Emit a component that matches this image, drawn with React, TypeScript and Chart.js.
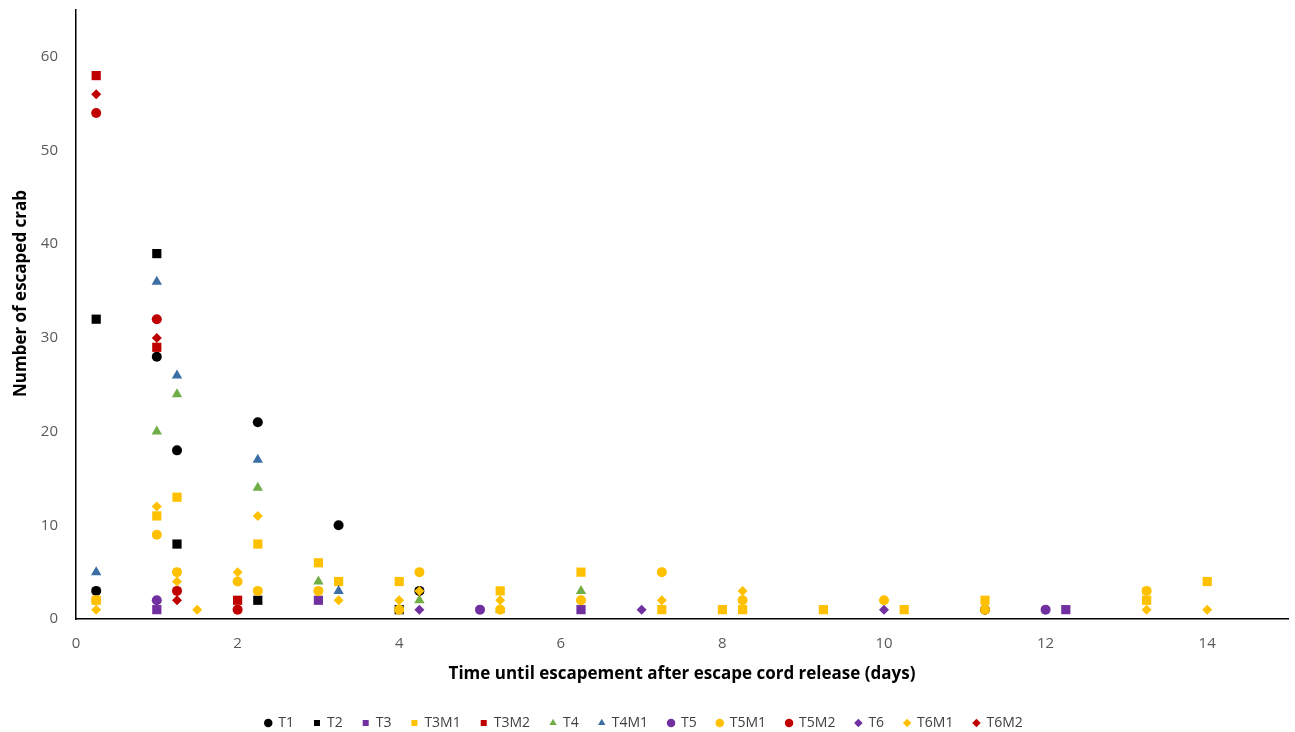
import React, { useEffect, useRef } from "react";
import { Chart, registerables } from "chart.js";

Chart.register(...registerables);

// ---- data (x = days, y = number of escaped crab) ----
const t1X = [0.25, 1, 1.25, 2.25, 3.25, 4.25, 11.25];
const t1Y = [3, 28, 18, 21, 10, 3, 1];
const t2X = [0.25, 1, 1.25, 2.25, 4];
const t2Y = [32, 39, 8, 2, 1];
const t3X = [1, 3, 6.25, 12.25];
const t3Y = [1, 2, 1, 1];
const t3m1X = [0.25, 1, 1.25, 2.25, 3, 3.25, 4, 5.25, 6.25, 7.25, 8, 8.25, 9.25, 10.25, 11.25, 13.25, 14];
const t3m1Y = [2, 11, 13, 8, 6, 4, 4, 3, 5, 1, 1, 1, 1, 1, 2, 2, 4];
const t3m2X = [0.25, 1, 2];
const t3m2Y = [58, 29, 2];
const t4X = [1, 1.25, 2.25, 3, 4.25, 5.25, 6.25];
const t4Y = [20, 24, 14, 4, 2, 1, 3];
const t4m1X = [0.25, 1, 1.25, 2.25, 3.25];
const t4m1Y = [5, 36, 26, 17, 3];
const t5X = [1, 5, 12];
const t5Y = [2, 1, 1];
const t5m1X = [0.25, 1, 1.25, 2, 2.25, 3, 4, 4.25, 5.25, 6.25, 7.25, 8.25, 10, 11.25, 13.25];
const t5m1Y = [2, 9, 5, 4, 3, 3, 1, 5, 1, 2, 5, 2, 2, 1, 3];
const t5m2X = [0.25, 1, 1.25, 2];
const t5m2Y = [54, 32, 3, 1];
const t6X = [4.25, 7, 10];
const t6Y = [1, 1, 1];
const t6m1X = [0.25, 1, 1.25, 1.5, 2, 2.25, 3.25, 4, 4.25, 5.25, 6.25, 7.25, 8.25, 10, 13.25, 14];
const t6m1Y = [1, 12, 4, 1, 5, 11, 2, 2, 3, 2, 2, 2, 3, 2, 1, 1];
const t6m2X = [0.25, 1, 1.25];
const t6m2Y = [56, 30, 2];

const xTicks = [0, 2, 4, 6, 8, 10, 12, 14];
const yTicks = [0, 10, 20, 30, 40, 50, 60];

const xTitle = "Time until escapement after escape cord release (days)";
const yTitle = "Number of escaped crab";

const BLACK = "#000000";
const PURPLE = "#7030A0";
const YELLOW = "#FFC000";
const RED = "#C00000";
const GREEN = "#70AD47";
const BLUE = "#3A6EA5";

const seriesDefs = [
  { label: "T1", xs: t1X, ys: t1Y, color: BLACK, style: "circle", r: 5 },
  { label: "T2", xs: t2X, ys: t2Y, color: BLACK, style: "rect", r: 6.5 },
  { label: "T3", xs: t3X, ys: t3Y, color: PURPLE, style: "rect", r: 6.5 },
  { label: "T3M1", xs: t3m1X, ys: t3m1Y, color: YELLOW, style: "rect", r: 6.5 },
  { label: "T3M2", xs: t3m2X, ys: t3m2Y, color: RED, style: "rect", r: 6.5 },
  { label: "T4", xs: t4X, ys: t4Y, color: GREEN, style: "triangle", r: 6 },
  { label: "T4M1", xs: t4m1X, ys: t4m1Y, color: BLUE, style: "triangle", r: 6 },
  { label: "T5", xs: t5X, ys: t5Y, color: PURPLE, style: "circle", r: 5 },
  { label: "T5M1", xs: t5m1X, ys: t5m1Y, color: YELLOW, style: "circle", r: 5 },
  { label: "T5M2", xs: t5m2X, ys: t5m2Y, color: RED, style: "circle", r: 5 },
  { label: "T6", xs: t6X, ys: t6Y, color: PURPLE, style: "rectRot", r: 5 },
  { label: "T6M1", xs: t6m1X, ys: t6m1Y, color: YELLOW, style: "rectRot", r: 5 },
  { label: "T6M2", xs: t6m2X, ys: t6m2Y, color: RED, style: "rectRot", r: 5 },
];

const FONT = "'Open Sans', 'Noto Sans', sans-serif";

const yTitlePlugin = {
  id: "yTitlePlugin",
  afterDraw(chart: any) {
    const { ctx, chartArea } = chart;
    ctx.save();
    ctx.translate(21, (chartArea.top + chartArea.bottom) / 2 - 21);
    ctx.rotate(-Math.PI / 2);
    ctx.font = `bold 17px ${FONT}`;
    ctx.fillStyle = "#000000";
    ctx.textAlign = "center";
    ctx.textBaseline = "middle";
    ctx.fillText(yTitle, 0, 0);
    ctx.restore();
  },
};

export default function App() {
  const ref = useRef<HTMLCanvasElement | null>(null);

  useEffect(() => {
    if (!ref.current) return;
    const n = seriesDefs.length;
    const chart = new Chart(ref.current, {
      type: "scatter",
      data: {
        datasets: seriesDefs.map((s, i) => ({
          label: s.label,
          data: s.xs.map((x, k) => ({ x, y: s.ys[k] })),
          backgroundColor: s.color,
          borderColor: s.color,
          borderWidth: 0,
          pointStyle: s.style as any,
          pointRadius: s.r,
          pointHoverRadius: s.r,
          order: n - i,
        })),
      },
      plugins: [yTitlePlugin],
      options: {
        animation: false,
        responsive: true,
        maintainAspectRatio: false,
        layout: { padding: { left: 0, right: 7, top: 10, bottom: -8 } },
        plugins: {
          tooltip: { enabled: false },
          legend: {
            position: "bottom",
            labels: {
              usePointStyle: true,
              boxWidth: 6,
              boxHeight: 6,
              padding: 20,
              color: "#404040",
              font: { family: FONT, size: 14 },
              sort: (a: any, b: any) => a.datasetIndex - b.datasetIndex,
            },
          },
        },
        scales: {
          x: {
            type: "linear",
            min: 0,
            max: 15,
            afterBuildTicks: (scale: any) => {
              scale.ticks = xTicks.map((v) => ({ value: v }));
            },
            afterFit: (scale: any) => {
              scale.height = 77;
            },
            grid: { display: false, drawTicks: false },
            border: { display: true, color: "#000000", width: 1.5 },
            ticks: { color: "#595959", font: { family: FONT, size: 15 }, padding: 16 },
            title: {
              display: true,
              text: xTitle,
              color: "#000000",
              font: { family: FONT, size: 17, weight: "bold" },
              padding: { top: 0, bottom: 12 },
            },
          },
          y: {
            type: "linear",
            min: 0,
            max: 65,
            afterBuildTicks: (scale: any) => {
              scale.ticks = yTicks.map((v) => ({ value: v }));
            },
            afterFit: (scale: any) => {
              scale.width = 76;
            },
            grid: {
              display: true,
              drawOnChartArea: false,
              drawTicks: true,
              tickLength: 17,
              color: "rgba(0,0,0,0)",
            },
            border: { display: true, color: "#000000", width: 1.5 },
            ticks: { color: "#595959", font: { family: FONT, size: 15 }, padding: 1 },
          },
        },
      },
    });
    return () => chart.destroy();
  }, []);

  return (
    <div style={{ position: "fixed", left: 0, top: 0, width: 1295, height: 732, background: "#ffffff" }}>
      <canvas ref={ref} />
    </div>
  );
}
